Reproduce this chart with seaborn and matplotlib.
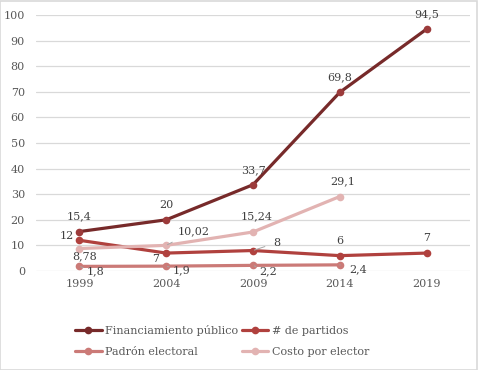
import matplotlib
matplotlib.use("Agg")
import matplotlib.pyplot as plt
import seaborn as sns
import pandas as pd
from matplotlib.patches import Rectangle

years = [1999, 2004, 2009, 2014, 2019]
financiamiento = [15.4, 20, 33.7, 69.8, 94.5]
partidos = [12, 7, 8, 6, 7]
padron = [1.8, 1.9, 2.2, 2.4]
costo = [8.78, 10.02, 15.24, 29.1]
series_names = ["Financiamiento público", "# de partidos", "Padrón electoral", "Costo por elector"]
yticks = [0, 10, 20, 30, 40, 50, 60, 70, 80, 90, 100]

series_values = [financiamiento, partidos, padron, costo]
rows = []
for name, vals in zip(series_names, series_values):
    for yr, v in zip(years, vals):
        rows.append({"Año": yr, "Valor": v, "Serie": name})
df = pd.DataFrame(rows)

colors = ["#772A2A", "#B0413E", "#CB7A77", "#E2B3B2"]
mcolors = ["#9C3B3B", "#B0413E", "#CB7A77", "#E2B3B2"]
palette = dict(zip(series_names, colors))

sns.set_theme(style="white")
plt.rcParams["font.family"] = ["DejaVu Serif"]
text_color = "#595959"

fig = plt.figure(figsize=(4.78, 3.70), dpi=100)
ax = fig.add_axes([36/478, (370-271)/370, (470-36)/478, (271-15)/370])

sns.lineplot(data=df, x="Año", y="Valor", hue="Serie", hue_order=series_names,
             palette=palette, marker="o", markersize=5.5, markeredgewidth=0,
             linewidth=2.3, ax=ax, legend=True)
for line, mc in zip(ax.lines[:4], mcolors):
    line.set_markerfacecolor(mc)
    line.set_markeredgecolor(mc)
    line.set_solid_capstyle("round")

ax.set_xlim(1996.5, 2021.5)
ax.set_ylim(0, 100)
ax.set_xticks(years)
ax.set_xticklabels([str(y) for y in years])
ax.set_yticks(yticks)
ax.set_xlabel("")
ax.set_ylabel("")
ax.grid(axis="y", color="#d9d9d9", linewidth=0.9)
ax.set_axisbelow(True)
for s in ["top", "right", "left", "bottom"]:
    ax.spines[s].set_visible(False)
ax.tick_params(axis="both", length=0, labelsize=8, colors=text_color)
ax.tick_params(axis="y", pad=8)
ax.tick_params(axis="x", pad=6)

# data labels: (dx, dy) in pixels, leader flag
label_offsets = {
    "Financiamiento público": [(0, 15, False)] * 5,
    "# de partidos": [(-13, 4, False), (-11, -6, False), (24, 8, True), (0, 15, False), (0, 15, False)],
    "Padrón electoral": [(16, -5, True), (15, -4, True), (15, -6, True), (18, -4, True)],
    "Costo por elector": [(5, -8, False), (27, 14, True), (4, 16, False), (3, 15, False)],
}
for name, vals in zip(series_names, series_values):
    for i, (yr, v) in enumerate(zip(years, vals)):
        dx, dy, leader = label_offsets[name][i]
        txt = f"{v:g}".replace(".", ",")
        kw = {}
        if leader:
            kw["arrowprops"] = dict(arrowstyle="-", color="#a6a6a6", lw=0.7,
                                    shrinkA=4, shrinkB=1)
        ax.annotate(txt, xy=(yr, v), xytext=(dx, dy), textcoords="offset pixels",
                    ha="center", va="center", fontsize=8, color="#404040", **kw)

handles, labels = ax.get_legend_handles_labels()
ax.get_legend().remove()
order = [0, 2, 1, 3]
leg = fig.legend([handles[i] for i in order], [labels[i] for i in order],
                 ncol=2, loc="center", bbox_to_anchor=(222/478, (370-341)/370),
                 frameon=False, fontsize=8, labelcolor=text_color,
                 handlelength=2.4, handletextpad=0.3, columnspacing=0.3,
                 labelspacing=0.95)

fig.patches.append(Rectangle((0.001, 0.001), 0.997, 0.997, transform=fig.transFigure,
                             fill=False, edgecolor="#d9d9d9", linewidth=1.2))

fig.savefig("out.png", dpi=100, facecolor="white")
